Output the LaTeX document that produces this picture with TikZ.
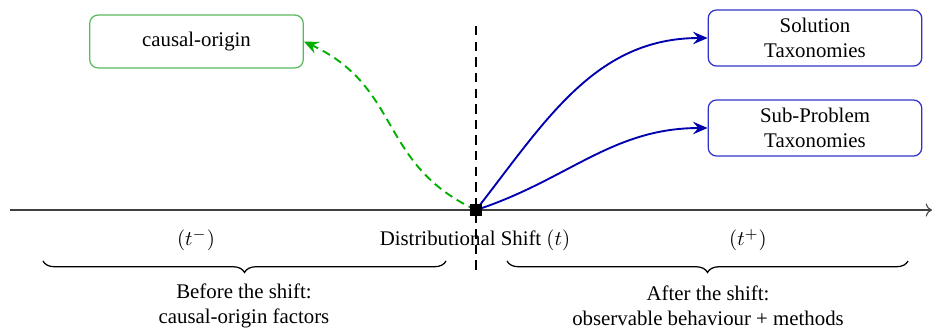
\documentclass[tikz,border=0pt]{standalone}
\usepackage{fontspec}
\setmainfont{Liberation Serif}
\usetikzlibrary{arrows.meta,decorations.pathreplacing,positioning}
\definecolor{boxgreen}{RGB}{90,185,90}
\definecolor{arrgreen}{RGB}{0,175,0}
\definecolor{boxblue}{RGB}{50,50,200}
\definecolor{arrblue}{RGB}{0,0,175}
\tikzset{
  box/.style={draw, rounded corners=4pt, align=center, minimum width=102.5pt, inner sep=2pt, font=\fontsize{10}{12}\selectfont},
  greenbox/.style={box, draw=boxgreen, semithick, minimum height=25.4pt},
  bluebox/.style={box, draw=boxblue, semithick, minimum height=26.9pt},
  bluearr/.style={draw=arrblue, line width=0.9pt, -{Stealth[length=7pt,width=6pt,inset=2.5pt]}},
  greenarr/.style={draw=arrgreen, line width=0.9pt, dash pattern=on 4pt off 2.5pt, -{Stealth[length=7pt,width=6pt,inset=2.5pt]}},
  lbl/.style={font=\fontsize{10}{12}\selectfont, align=center, inner sep=0pt},
  brc/.style={decorate, decoration={brace, mirror, amplitude=5.5pt}, semithick}
}
\begin{document}
\begin{tikzpicture}[x=0.48pt, y=-0.48pt]
\useasboundingbox (0,0) rectangle (933,331);
% axis
\coordinate (axL) at (10,210);
\coordinate (axR) at (932,210);
\draw[-{To[length=3pt]}, line width=0.5pt, black!75] (axL) -- (axR);
% vertical dashed
\coordinate (vtop) at (476,26);
\coordinate (vbot) at (476,276);
\draw[line width=0.9pt, dash pattern=on 4.5pt off 3pt] (vtop) -- (vbot);
% shift point
\coordinate (sp) at (476,210);
% boxes
\node[greenbox] (cause) at (196.5,41.5) {causal-origin};
\node[bluebox] (sol) at (815,38) {Solution\\Taxonomies};
\node[bluebox] (sub) at (815,128) {Sub-Problem\\Taxonomies};
% arrows
\draw[bluearr] (sp) to[out=52, in=180, looseness=1.0] (sol.west);
\draw[bluearr] (sp) to[out=18, in=180, looseness=1.0] (sub.west);
\draw[greenarr] (sp) to[out=155, in=-25, looseness=1.15] (cause.east);
\node[fill=black, minimum size=5.8pt, inner sep=0pt] (shift) at (sp) {};
% labels
\node[lbl] (tminus) at (196,240) {$(t^{-})$};
\node[lbl] (tmid) at (475,240) {Distributional Shift $(t)$};
\node[lbl] (tplus) at (748,240) {$(t^{+})$};
% braces
\coordinate (b1a) at (43,261);
\coordinate (b1b) at (446,261);
\coordinate (b2a) at (507,261);
\coordinate (b2b) at (908,261);
\draw[brc] (b1a) -- (b1b);
\draw[brc] (b2a) -- (b2b);
\node[lbl] (before) at (244,306) {Before the shift:\\causal-origin factors};
\node[lbl] (after) at (708,306) {After the shift:\\observable behaviour + methods};
\end{tikzpicture}
\end{document}
